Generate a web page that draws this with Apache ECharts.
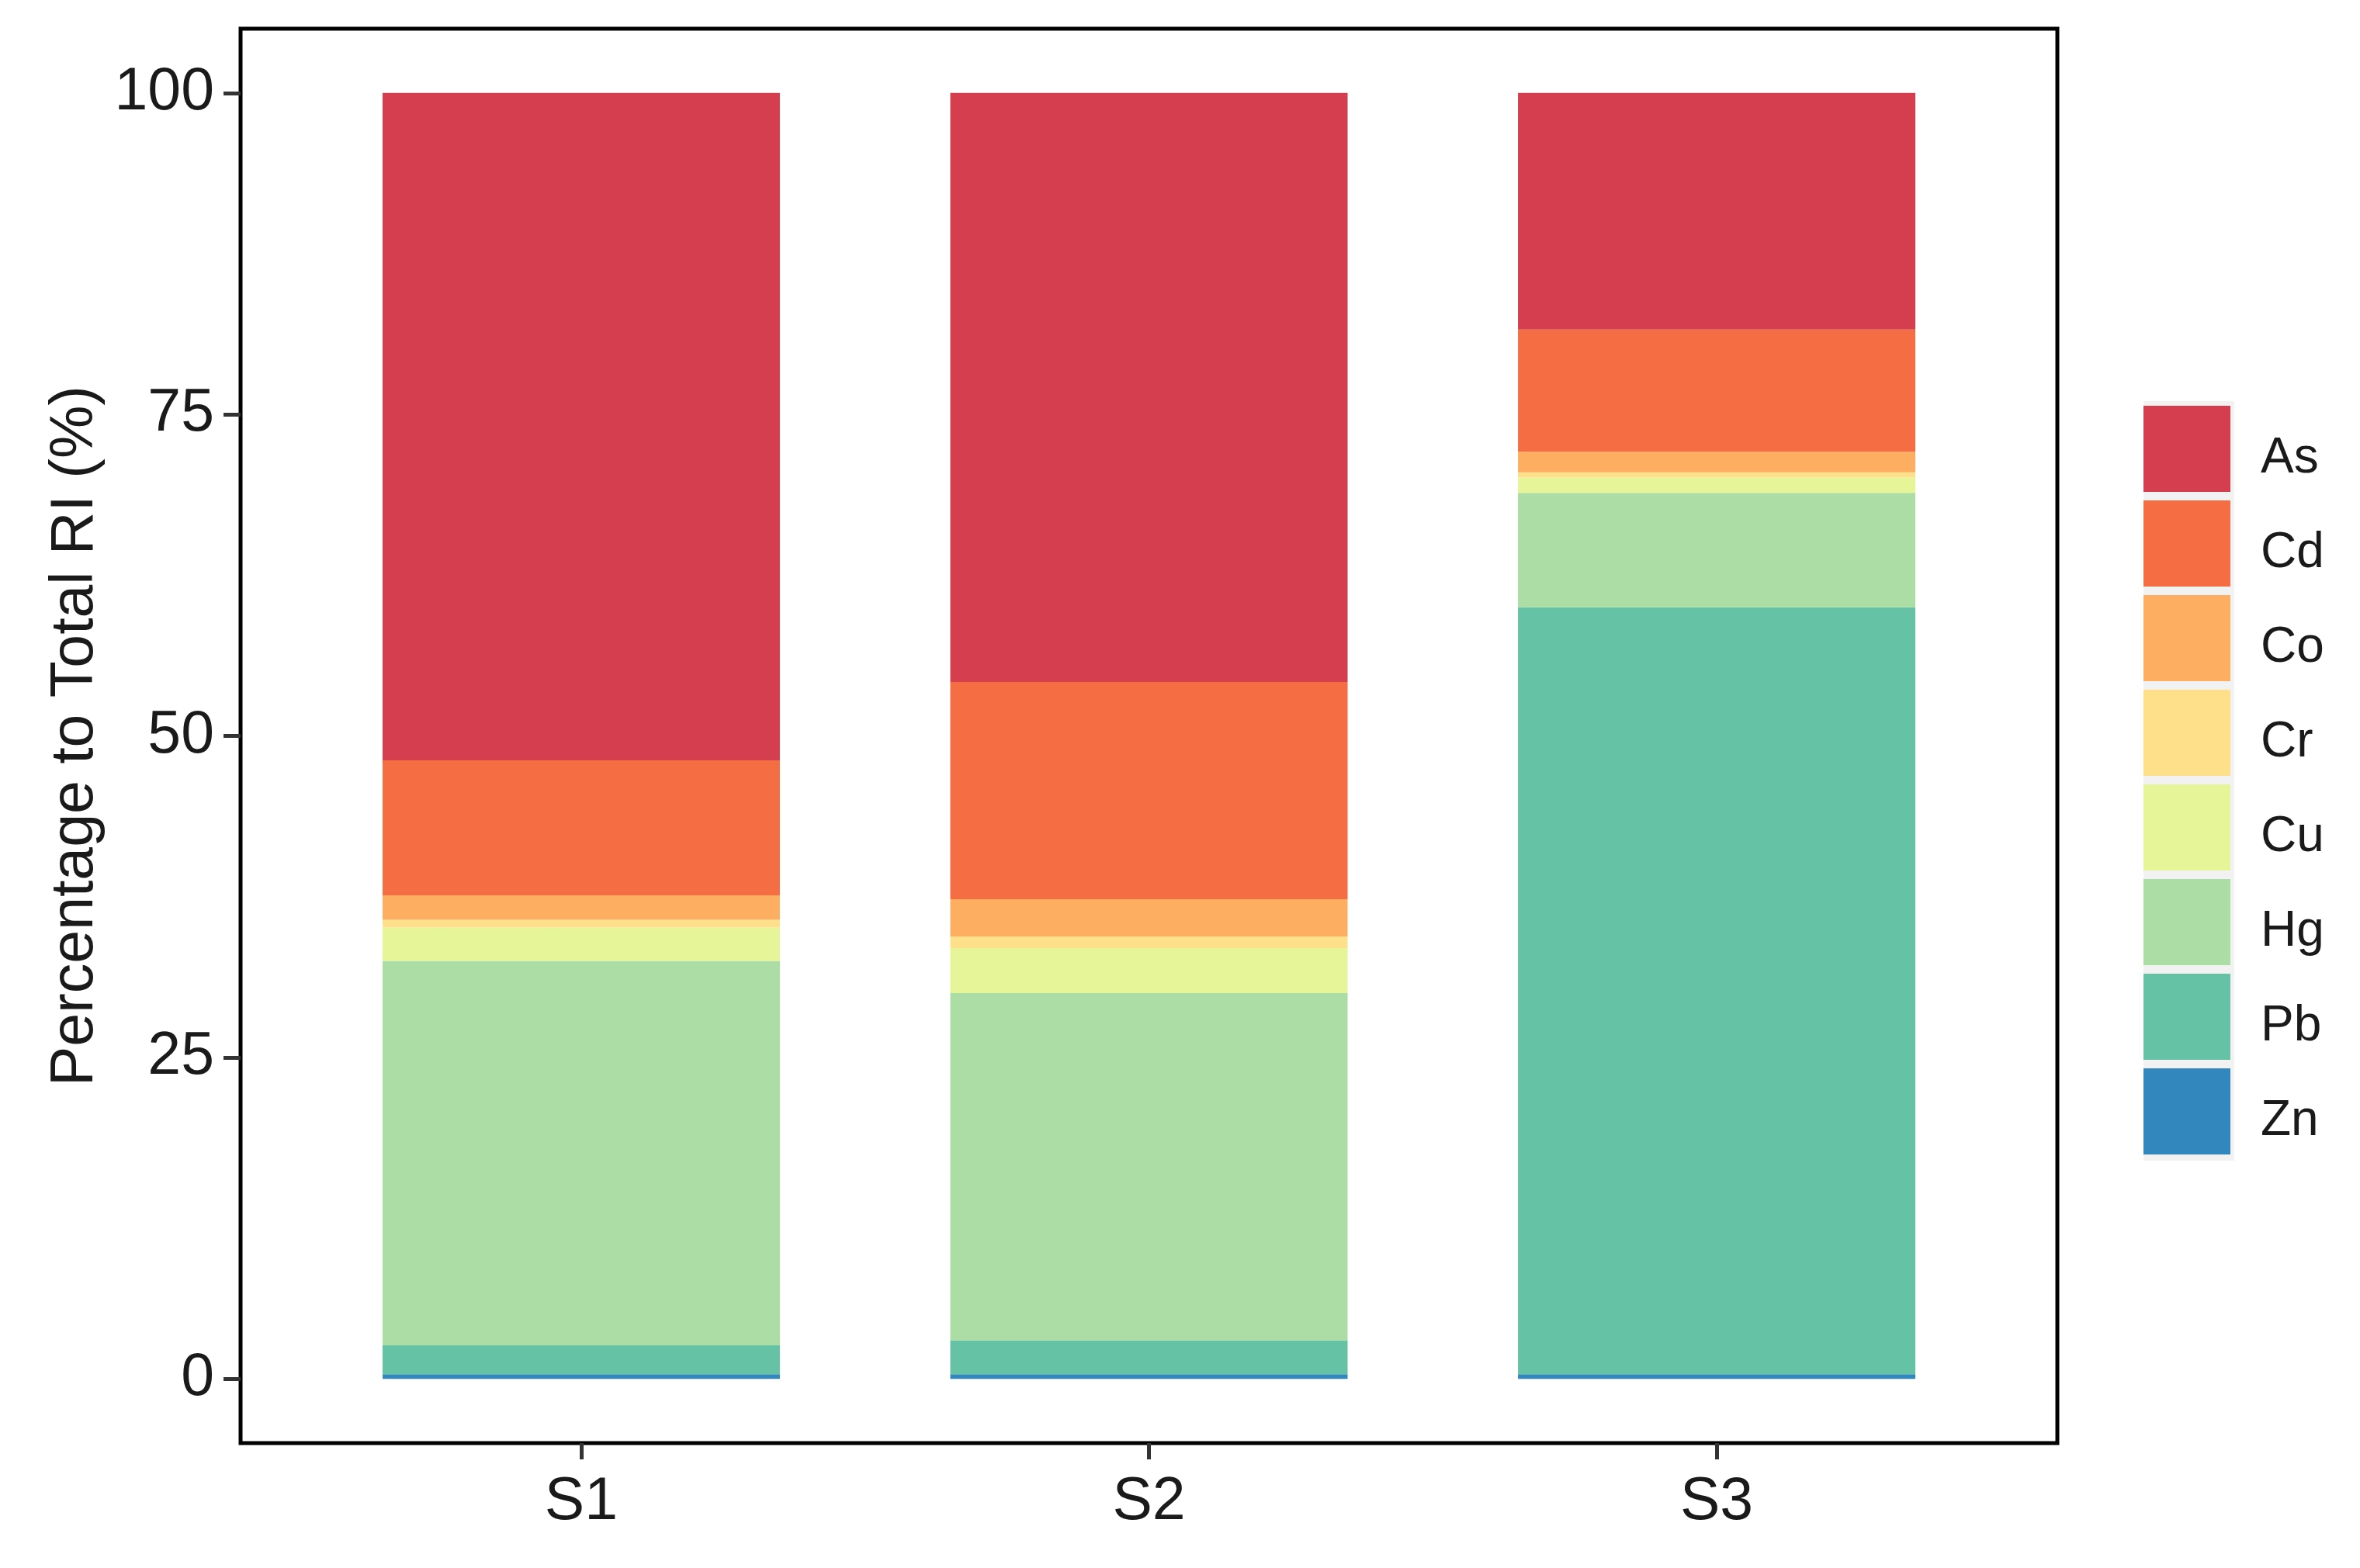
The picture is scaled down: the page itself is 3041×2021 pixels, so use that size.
<!DOCTYPE html>
<html>
<head>
<meta charset="utf-8">
<script src="https://cdn.jsdelivr.net/npm/echarts@6/dist/echarts.min.js"></script>
<style>
html,body{margin:0;padding:0;background:#fff;}
#chart{width:3041px;height:2021px;}
</style>
</head>
<body>
<div id="chart"></div>
<script>
// Data (percent of total RI)
const categories = ['S1', 'S2', 'S3'];
const elements = ['As', 'Cd', 'Co', 'Cr', 'Cu', 'Hg', 'Pb', 'Zn'];
const As = [51.9, 45.8, 18.4];
const Cd = [10.5, 16.9, 9.5];
const Co = [1.9, 2.9, 1.6];
const Cr = [0.6, 0.9, 0.4];
const Cu = [2.6, 3.5, 1.2];
const Hg = [29.9, 27.0, 8.9];
const Pb = [2.25, 2.65, 59.65];
const Zn = [0.35, 0.35, 0.35];
const yTicks = [0, 25, 50, 75, 100];

const valuesByElement = { As, Cd, Co, Cr, Cu, Hg, Pb, Zn };
const colors = {
  As: '#D53E4F', Cd: '#F46D43', Co: '#FDAE61', Cr: '#FEE08B',
  Cu: '#E6F598', Hg: '#ABDDA4', Pb: '#66C2A5', Zn: '#3288BD'
};
const catPos = categories.map((c, i) => i + 1);
const FONT = '"Liberation Sans", Arial, sans-serif';

// stacked bottom-to-top: Zn first, As last
// each datum is [value, position]; the value column comes first so it is the stacked one
const stackOrder = elements.slice().reverse();
const series = stackOrder.map(el => ({
  name: el,
  type: 'bar',
  stack: 'total',
  barWidth: 512,
  encode: { x: 1, y: 0 },
  itemStyle: { color: colors[el] },
  emphasis: { disabled: true },
  data: valuesByElement[el].map((v, i) => [v, catPos[i]])
}));

const chart = echarts.init(document.getElementById('chart'), null, { renderer: 'canvas' });
chart.setOption({
  backgroundColor: '#ffffff',
  animation: false,
  grid: {
    left: 310, right: 390, top: 37, bottom: 161,
    show: true, borderColor: '#000', borderWidth: 5, backgroundColor: 'transparent',
    containLabel: false
  },
  graphic: [{
    type: 'rect', z: 0,
    shape: { x: 2762, y: 517, width: 117, height: 979 },
    style: { fill: '#f2f2f2' }
  }],
  legend: {
    orient: 'vertical',
    left: 2762, top: 523,
    padding: 0,
    itemWidth: 112, itemHeight: 111, itemGap: 11,
    icon: 'rect',
    z: 5,
    data: elements,
    selectedMode: false,
    formatter: name => '{t|' + name + '}',
    textStyle: {
      fontFamily: FONT, fontSize: 64, color: '#1a1a1a',
      rich: { t: { fontFamily: FONT, fontSize: 64, color: '#1a1a1a', padding: [26, 0, 0, 34] } }
    }
  },
  xAxis: {
    type: 'value',
    min: 0.4, max: 3.6,
    axisLine: { show: false, onZero: false },
    splitLine: { show: false },
    axisTick: {
      show: true, customValues: catPos, length: 21, inside: false,
      lineStyle: { color: '#333', width: 5 }
    },
    axisLabel: {
      customValues: catPos, margin: 38,
      formatter: v => categories[Math.round(v) - 1] || '',
      fontFamily: FONT, fontSize: 77, color: '#1a1a1a'
    }
  },
  yAxis: {
    type: 'value',
    min: -5, max: 105,
    name: 'Percentage to Total RI (%)',
    nameLocation: 'middle', nameRotate: 90, nameGap: 146,
    nameTextStyle: { fontFamily: FONT, fontSize: 77, color: '#1a1a1a' },
    axisLine: { show: false, onZero: false },
    splitLine: { show: false },
    axisTick: {
      show: true, customValues: yTicks, length: 22,
      lineStyle: { color: '#333', width: 5 }
    },
    axisLabel: {
      customValues: yTicks, margin: 34,
      fontFamily: FONT, fontSize: 77, color: '#1a1a1a'
    }
  },
  series: series
});
</script>
</body>
</html>
